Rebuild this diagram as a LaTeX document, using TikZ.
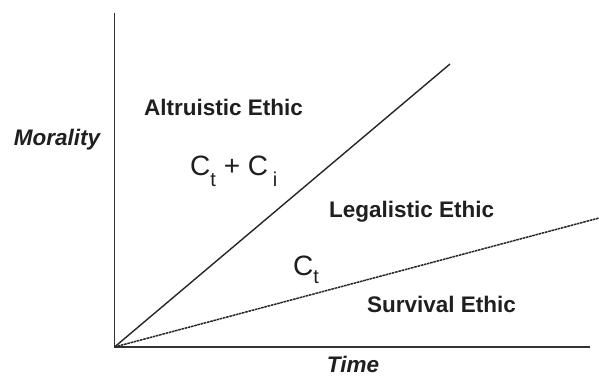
\documentclass[tikz,border=0pt]{standalone}
\usepackage{fontspec}
\setmainfont{Liberation Sans}
\newcommand\lowsub[2][11pt]{\raisebox{-#1}{\fontsize{20}{20}\selectfont #2}}
\begin{document}
\begin{tikzpicture}[x=1pt,y=-1pt,
  region/.style={inner sep=0pt,font=\fontsize{22.5}{24}\selectfont\bfseries,text=black!88},
  axislabel/.style={inner sep=0pt,font=\fontsize{22.5}{24}\selectfont\bfseries\itshape,text=black!88},
  term/.style={inner sep=0pt,font=\fontsize{28}{30}\selectfont,text=black!88},
  axisline/.style={line width=1.8pt,draw=black!80},
  bound/.style={line width=1.4pt,draw=black!85}]
\useasboundingbox (0,0) rectangle (599,376);
% axes
\coordinate (O) at (114.5,347);
\coordinate (ytop) at (114.5,12.5);
\coordinate (xend) at (590,347);
\draw[axisline] (ytop) -- (O) -- (xend);
% boundaries between the ethics
\coordinate (upper) at (450,64);
\coordinate (lower) at (599,218);
\draw[bound] (O) -- (upper);
\draw[bound,line width=1.5pt,dash pattern=on 2.6pt off 0.7pt] (O) -- (lower);
% labels
\node[axislabel,anchor=base] (mor) at (57,145) {Morality};
\node[axislabel,anchor=base] (tim) at (353,372.5) {Time};
\node[region,anchor=base west] (alt) at (144,115) {Altruistic Ethic};
\node[region,anchor=base west] (leg) at (329,217) {Legalistic Ethic};
\node[region,anchor=base west] (sur) at (367,312) {Survival Ethic};
\node[term,anchor=base west] (cti) at (190,175) {C\lowsub{t} + C\,\lowsub{i}};
\node[term,anchor=base west] (ct) at (293,275) {C\lowsub[8pt]{t}};
\end{tikzpicture}
\end{document}
